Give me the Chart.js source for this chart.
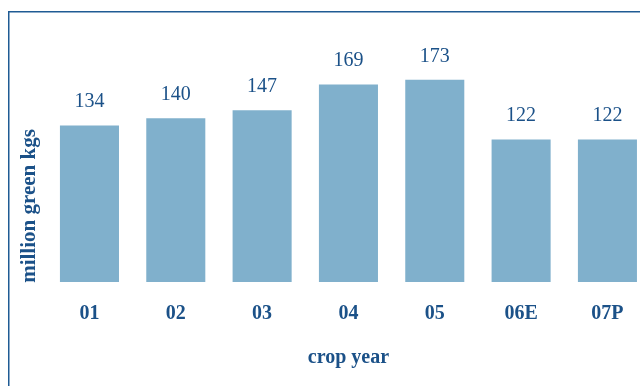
<!DOCTYPE html>
<html>
<head>
<meta charset="utf-8">
<script src="https://cdn.jsdelivr.net/npm/chart.js@4.4.1/dist/chart.umd.min.js"></script>
<style>
  html, body { margin: 0; padding: 0; background: #ffffff; overflow: hidden; }
  #wrap { position: absolute; left: 0; top: 0; width: 660px; height: 386px; }
</style>
</head>
<body>
<div id="wrap"><canvas id="c" width="660" height="386"></canvas></div>
<script>
// Coffee production by crop year (million green kgs)
const cropYears = ['01', '02', '03', '04', '05', '06E', '07P'];
const production = [134, 140, 147, 169, 173, 122, 122];
const yTitle = 'million green kgs';
const xTitle = 'crop year';

const INK = '#1b5188';
const BAR = '#80b0cc';
const SERIF = '"Liberation Serif", "DejaVu Serif", serif';

// Frame lines, axis titles and value labels
const decorations = {
  id: 'decorations',
  beforeDraw(chart) {
    const ctx = chart.ctx;
    ctx.save();
    ctx.strokeStyle = '#1f5b94';
    ctx.lineWidth = 1.5;
    ctx.beginPath();
    ctx.moveTo(8.75, 390);
    ctx.lineTo(8.75, 11.75);
    ctx.lineTo(700, 11.75);
    ctx.stroke();
    ctx.restore();
  },
  afterDatasetsDraw(chart) {
    const ctx = chart.ctx;
    const meta = chart.getDatasetMeta(0);
    const values = chart.data.datasets[0].data;
    const area = chart.chartArea;
    ctx.save();
    ctx.fillStyle = INK;
    ctx.textAlign = 'center';
    ctx.textBaseline = 'alphabetic';
    ctx.font = '20px ' + SERIF;
    meta.data.forEach((bar, i) => {
      ctx.fillText(String(values[i]), bar.x, bar.y - 18);
    });

    ctx.font = 'bold 20px ' + SERIF;
    ctx.fillText(xTitle, (area.left + area.right) / 2, 363);

    ctx.translate(35, 206);
    ctx.rotate(-Math.PI / 2);
    ctx.font = 'bold 21px ' + SERIF;
    ctx.fillText(yTitle, 0, 0);
    ctx.restore();
  }
};

new Chart(document.getElementById('c'), {
  type: 'bar',
  data: {
    labels: cropYears,
    datasets: [{
      data: production,
      backgroundColor: BAR,
      borderWidth: 0,
      barPercentage: 0.684,
      categoryPercentage: 1.0
    }]
  },
  options: {
    responsive: false,
    animation: false,
    devicePixelRatio: 1,
    layout: { padding: { left: 46.3, right: 9.4, top: 12, bottom: 0 } },
    plugins: { legend: { display: false }, tooltip: { enabled: false } },
    scales: {
      x: {
        grid: { display: false, drawTicks: false },
        border: { display: false },
        ticks: {
          color: INK,
          font: { family: SERIF, size: 20, weight: 'bold' },
          padding: 20,
          maxRotation: 0,
          autoSkip: false
        },
        afterFit(scale) { scale.height = 104; }
      },
      y: {
        display: false,
        min: 0,
        max: 231
      }
    }
  },
  plugins: [decorations]
});
</script>
</body>
</html>
